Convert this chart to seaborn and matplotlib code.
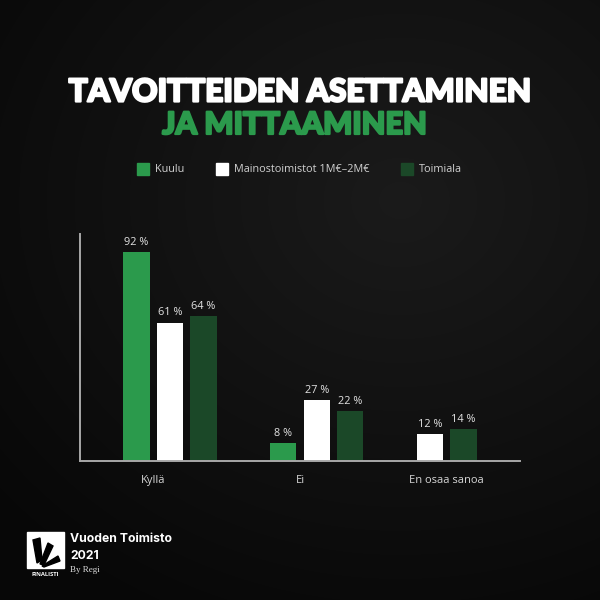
import numpy as np
import pandas as pd
import matplotlib
matplotlib.use("Agg")
import matplotlib.pyplot as plt
import matplotlib.patheffects as pe
import seaborn as sns
from matplotlib.patches import Rectangle, Polygon
from matplotlib.lines import Line2D

# ---- data ----
categories = ["Kyllä", "Ei", "En osaa sanoa"]
series = ["Kuulu", "Mainostoimistot 1M€–2M€", "Toimiala"]
kuulu = [92, 8, None]
mainos = [61, 27, 12]
toimiala = [64, 22, 14]
title_line1 = "TAVOITTEIDEN ASETTAMINEN"
title_line2 = "JA MITTAAMINEN"

colors = {"Kuulu": "#2b9a4c", "Mainostoimistot 1M€–2M€": "#ffffff", "Toimiala": "#1b4828"}

sns.set_theme(style="dark")
plt.rcParams["font.family"] = ["Open Sans", "DejaVu Sans"]

# build table: bars packed within each category
step = 0.228
rows = []
for ci, cat in enumerate(categories):
    k = 0
    for s, vals in zip(series, [kuulu, mainos, toimiala]):
        v = vals[ci]
        if v is None:
            continue
        rows.append({"category": cat, "series": s, "value": v,
                     "pos": ci - 0.5 * step + k * step})
        k += 1
df = pd.DataFrame(rows)

fig = plt.figure(figsize=(6, 6), dpi=100)
fig.patch.set_facecolor("#0b0b0b")

# background gradient
bg = fig.add_axes([0, 0, 1, 1], zorder=-10)
yy, xx = np.mgrid[0:600, 0:600]
d = np.sqrt(((xx - 400) / 600) ** 2 + ((yy - 200) / 520) ** 2)
g = np.clip(0.105 - 0.085 * d, 0.03, 0.11)
bg.imshow(np.dstack([g, g, g]), extent=[0, 1, 0, 1], aspect="auto")
bg.axis("off")

ax = fig.add_axes([80 / 600, 1 - 461 / 600, 440 / 600, 227 / 600])
ax.set_facecolor("none")
sns.barplot(data=df, x="pos", y="value", hue="series", hue_order=series,
            palette=colors, native_scale=True, dodge=False, width=0.79,
            legend=False, ax=ax, saturation=1, linewidth=0)
ax.set_xlim(-0.5, 2.5)
ax.set_ylim(0, 100)
ax.set_xticks(range(len(categories)))
ax.set_xticklabels(categories, color="#d6d6d6", fontsize=8)
ax.set_yticks([])
ax.set_xlabel("")
ax.set_ylabel("")
ax.tick_params(axis="x", length=0, pad=10)
ax.grid(False)
for sp in ["top", "right"]:
    ax.spines[sp].set_visible(False)
for sp in ["left", "bottom"]:
    ax.spines[sp].set_visible(True)
    ax.spines[sp].set_color("#a8a8a8")
    ax.spines[sp].set_linewidth(1.4)

for _, r in df.iterrows():
    ax.text(r["pos"], r["value"] + 1.8, f"{r['value']} %", ha="center", va="bottom",
            color="#e4e4e4", fontsize=7.8)

# legend
handles = [Line2D([0], [0], marker="s", linestyle="none", markersize=8.5,
                  markerfacecolor=colors[s], markeredgecolor=colors[s]) for s in series]
fig.legend(handles, series, loc="center", bbox_to_anchor=(0.5, 1 - 170 / 600), ncol=3,
           frameon=False, fontsize=7.8, labelcolor="#d0d0d0", columnspacing=3.0,
           handletextpad=0.6, handlelength=1.0)

# title with fitted width
renderer = fig.canvas.get_renderer()
def fit_text(txt, cx, cy, width_px, color):
    t = fig.text(cx / 600, 1 - cy / 600, txt, ha="center", va="center", color=color,
                 fontsize=24, fontweight="black", family=["Lato", "DejaVu Sans"])
    w = t.get_window_extent(renderer).width
    t.set_fontsize(24 * (width_px - 2) / w)
    t.set_path_effects([pe.withStroke(linewidth=1.6, foreground=color)])
    return t
fit_text(title_line1, 300, 92, 464, "#ffffff")
fit_text(title_line2, 295, 125, 266, "#2b9a4c")

# logo
logo = fig.add_axes([0, 0, 1, 1], zorder=5)
logo.set_xlim(0, 600); logo.set_ylim(600, 0); logo.axis("off")
logo.add_patch(Rectangle((27, 532), 37, 36, color="white"))
logo.add_patch(Polygon([[37, 563], [33, 540], [40, 538], [42, 560]], color="black"))
logo.add_patch(Polygon([[40, 564], [48, 543], [53, 546], [44, 565]], color="black"))
logo.add_patch(Polygon([[42, 566], [58, 556], [60, 561], [44, 567]], color="black"))
logo.text(45.5, 574, "FINALISTI", ha="center", va="center", color="white", fontsize=4.2,
          fontweight="bold")
logo.text(70, 539, "Vuoden Toimisto", ha="left", va="center", color="white", fontsize=8.8,
          fontweight="bold", family=["Inter", "DejaVu Sans"])
logo.text(70, 556, "2021", ha="left", va="center", color="white", fontsize=8.8,
          fontweight="bold", family=["Inter", "DejaVu Sans"])
logo.text(70, 570, "By Regi", ha="left", va="center", color="#dddddd", fontsize=6.5,
          family=["Liberation Serif", "DejaVu Serif"])

fig.savefig("out.png", dpi=100, facecolor=fig.get_facecolor())
